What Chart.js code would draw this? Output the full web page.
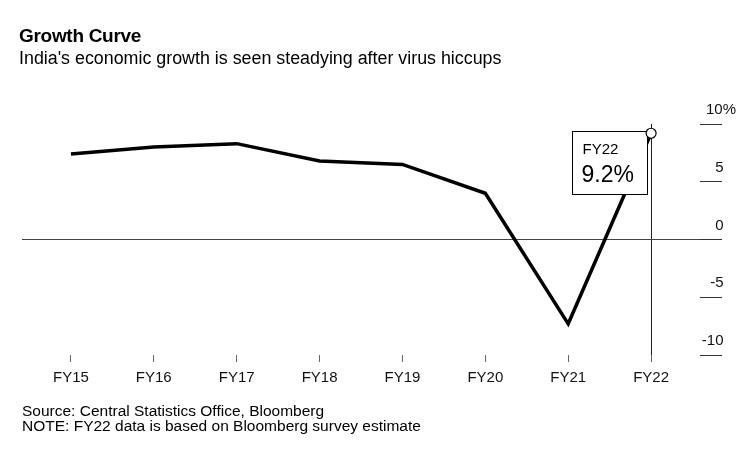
<!DOCTYPE html>
<html>
<head>
<meta charset="utf-8">
<script src="https://cdn.jsdelivr.net/npm/chart.js@4/dist/chart.umd.min.js"></script>
<style>
  html, body { margin: 0; padding: 0; background: #fff; }
  #wrap { position: relative; width: 748px; height: 450px; overflow: hidden; font-family: "Liberation Sans", Arial, Helvetica, sans-serif; color: #000; }
  #c { position: absolute; left: 0; top: 0; }
  .t { position: absolute; white-space: nowrap; }
  #title { left: 19px; top: 26px; font-size: 19px; line-height: 19px; font-weight: bold; letter-spacing: -0.3px; }
  #sub { left: 19px; top: 50px; font-size: 17.85px; line-height: 17.85px; }
  #foot { left: 22px; top: 403px; font-size: 15.5px; line-height: 15px; }
</style>
</head>
<body>
<div id="wrap">
  <canvas id="c" width="748" height="450"></canvas>
  <div class="t" id="title">Growth Curve</div>
  <div class="t" id="sub">India's economic growth is seen steadying after virus hiccups</div>
  <div class="t" id="foot">Source: Central Statistics Office, Bloomberg<br>NOTE: FY22 data is based on Bloomberg survey estimate</div>
</div>
<script>
// ---- data ----
const categories = ["FY15", "FY16", "FY17", "FY18", "FY19", "FY20", "FY21", "FY22"];
const growth = [7.4, 8.0, 8.3, 6.8, 6.5, 4.0, -7.3, 9.2];
const yTickValues = [-10, -5, 0, 5, 10];
const yTickLabels = ["-10", "-5", "0", "5", "10%"];

const FONT = '"Liberation Sans", Arial, Helvetica, sans-serif';
const lastIdx = categories.length - 1;
const points = growth.map((v, i) => ({ x: i, y: v }));

const calloutPlugin = {
  id: 'callout',
  afterDatasetDraw(chart, args) {
    if (args.index !== 0) return;
    const ctx = chart.ctx;
    const px = chart.scales.x.getPixelForValue(lastIdx);
    const py = chart.scales.y.getPixelForValue(growth[lastIdx]);
    const w = 75, h = 63;
    const left = Math.round(px - 4 - w) + 0.5;
    const top = Math.round(py - 2.5) + 0.5;
    ctx.save();
    ctx.fillStyle = '#fff';
    ctx.fillRect(left, top, w, h);
    ctx.strokeStyle = '#000';
    ctx.lineWidth = 1;
    ctx.strokeRect(left, top, w, h);
    ctx.fillStyle = '#000';
    ctx.textAlign = 'left';
    ctx.textBaseline = 'alphabetic';
    ctx.font = '15px ' + FONT;
    ctx.fillText(categories[lastIdx], left + 10, top + 22);
    ctx.font = '23px ' + FONT;
    ctx.fillText(growth[lastIdx].toFixed(1) + '%', left + 9, top + 50);
    ctx.restore();
  }
};

new Chart(document.getElementById('c'), {
  type: 'line',
  data: {
    datasets: [
      {
        data: points,
        borderColor: '#000',
        borderWidth: 3.5,
        pointRadius: 0,
        pointHoverRadius: 0,
        tension: 0,
        fill: false,
        order: 2
      },
      {
        data: points,
        showLine: false,
        pointRadius: ctx => ctx.dataIndex === lastIdx ? 5 : 0,
        pointBackgroundColor: '#fff',
        pointBorderColor: '#000',
        pointBorderWidth: 1.2,
        order: 1
      }
    ]
  },
  options: {
    responsive: false,
    animation: false,
    events: [],
    layout: { padding: { left: 22, right: 0, top: 124, bottom: 56 } },
    plugins: { legend: { display: false }, tooltip: { enabled: false } },
    scales: {
      x: {
        type: 'linear',
        min: -0.59,
        max: lastIdx + 0.59,
        afterBuildTicks: s => { s.ticks = categories.map((c, i) => ({ value: i })); },
        border: { display: false },
        grid: {
          drawOnChartArea: true,
          color: c => (c.tick && c.tick.value === lastIdx) ? '#222' : 'rgba(0,0,0,0)',
          tickColor: '#666',
          tickLength: 7,
          lineWidth: 1
        },
        ticks: {
          padding: 7,
          color: '#111',
          font: { family: FONT, size: 15 },
          maxRotation: 0,
          autoSkip: false,
          callback: v => categories[v]
        }
      },
      y: {
        position: 'right',
        min: -10,
        max: 10,
        afterBuildTicks: s => { s.ticks = yTickValues.map(v => ({ value: v })); },
        afterFit: s => { s.width = 48; },
        border: { display: false },
        grid: {
          drawOnChartArea: true,
          color: c => (c.tick && c.tick.value === 0) ? '#444' : 'rgba(0,0,0,0)',
          tickColor: '#333',
          tickLength: 22,
          lineWidth: 1
        },
        ticks: {
          mirror: true,
          padding: 36,
          labelOffset: -14,
          color: '#111',
          font: { family: FONT, size: 15 },
          callback: v => {
            const i = yTickValues.indexOf(v);
            const lab = yTickLabels[i];
            return lab.endsWith('%') ? lab : lab + '   ';
          }
        }
      }
    }
  },
  plugins: [calloutPlugin]
});
</script>
</body>
</html>
